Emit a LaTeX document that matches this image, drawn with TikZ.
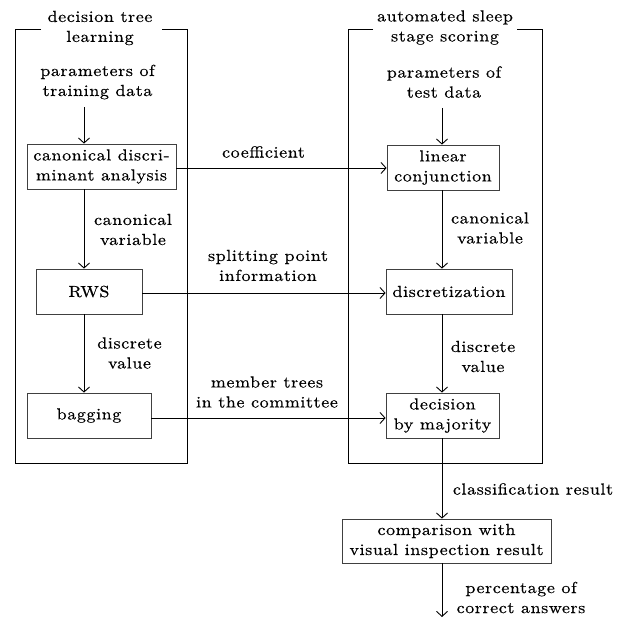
\documentclass[tikz,border=0pt]{standalone}
\usepackage{fontspec}
\setmainfont{lmroman10-regular}[Extension=.otf, FakeStretch=1.12, LetterSpace=4, FakeBold=0.5]
\usetikzlibrary{arrows.meta}
\begin{document}
\begin{tikzpicture}[x=1pt,y=-1pt,
  every node/.style={font=\fontsize{16}{20}\selectfont, align=center, inner sep=0pt},
  box/.style={draw=black!75, line width=0.8pt, minimum height=45pt},
  arr/.style={line width=0.8pt, -{Straight Barb[length=5pt,width=11pt,line width=0.9pt]}},
  frame/.style={line width=0.8pt}]
\useasboundingbox (0,0) rectangle (624,617);
% frames
\draw[frame] (41,29) -- (15,29) -- (15,463) -- (187,463) -- (187,29) -- (162,29);
\draw[frame] (373,29) -- (348,29) -- (348,463) -- (542,463) -- (542,29) -- (517,29);
% titles and inputs
\node (t1) at (100,28) {decision tree\\learning};
\node (t2) at (445,27.5) {automated sleep\\stage scoring};
\node (p1) at (97.5,82) {parameters of\\training data};
\node (p2) at (444,82) {parameters of\\test data};
% boxes
\node[box, minimum width=149pt] (cda) at (101.5,166.5) {canonical discri-\\minant analysis};
\node[box, minimum width=112pt] (lin) at (443,167.5) {linear\\conjunction};
\node[box, minimum width=106pt] (rws) at (89,291.5) {RWS};
\node[box, minimum width=126pt] (dis) at (449,291.5) {discretization};
\node[box, minimum width=124pt] (bag) at (89,415.5) {bagging};
\node[box, minimum width=113pt] (maj) at (442.5,415.5) {decision\\by majority};
\node[box, minimum width=209pt, minimum height=44pt] (cmp) at (446.5,541) {comparison with\\visual inspection result};
% labels
\node (l1) at (263.5,152) {coefficient};
\node (l2) at (133,229.5) {canonical\\variable};
\node (l3) at (490,228) {canonical\\variable};
\node (l4) at (268,265.5) {splitting point\\information};
\node (l5) at (129.5,353) {discrete\\value};
\node (l6) at (483,356.5) {discrete\\value};
\node (l7) at (267,392) {member trees\\in the committee};
\node (l8) at (533,489) {classification result};
\node (l9) at (521,597.5) {percentage of\\correct answers};
% coordinates
\coordinate (lx) at (84,0);
\coordinate (rx) at (442,0);
\coordinate (endp) at (442,617);
% connectors
\draw[arr] ([yshift=-8pt]p1.south -| lx) -- (cda.north -| lx);
\draw[arr] ([yshift=-10pt]p2.south -| rx) -- (lin.north -| rx);
\draw[arr] (cda.south -| lx) -- (rws.north -| lx);
\draw[arr] (rws.south -| lx) -- (bag.north -| lx);
\draw[arr] (lin.south -| rx) -- (dis.north -| rx);
\draw[arr] (dis.south -| rx) -- (maj.north -| rx);
\draw[arr] (maj.south -| rx) -- (cmp.north -| rx);
\draw[arr] (cmp.south -| rx) -- (endp);
\draw[arr] ([yshift=-1.5pt]cda.east) -- ([yshift=-1.5pt]cda.east -| lin.west);
\draw[arr] ([yshift=-1.5pt]rws.east) -- ([yshift=-1.5pt]rws.east -| dis.west);
\draw[arr] ([yshift=-2.5pt]bag.east) -- ([yshift=-2.5pt]bag.east -| maj.west);
\end{tikzpicture}
\end{document}
